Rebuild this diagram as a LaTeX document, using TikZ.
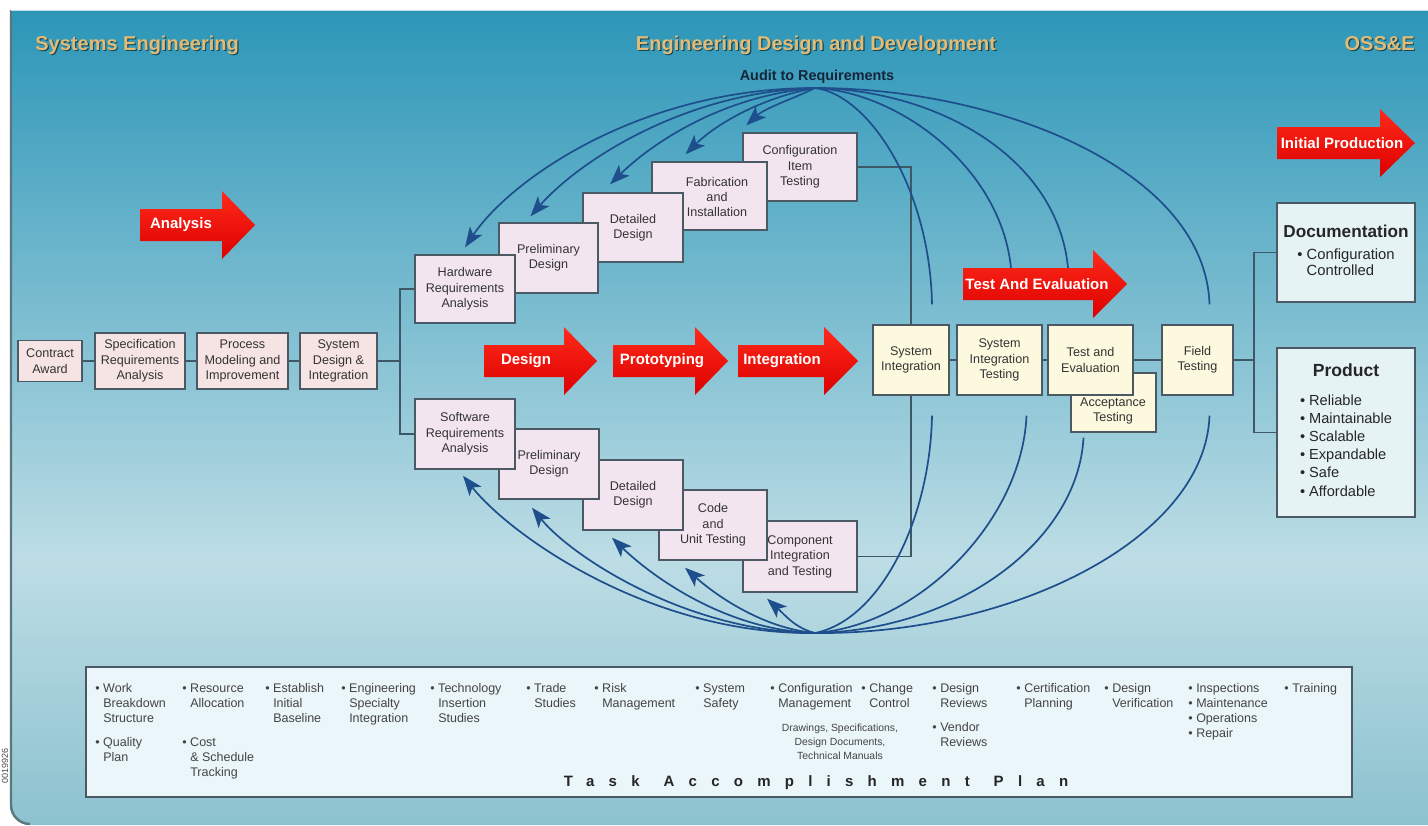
\documentclass[tikz,border=0pt]{standalone}
\usepackage{fontspec}
\setmainfont{Liberation Sans}
\usetikzlibrary{arrows.meta}
\pgfdeclarelayer{bg}
\pgfdeclarelayer{lines}
\pgfsetlayers{bg,lines,main}
\definecolor{bgtop}{HTML}{2C96B8}
\definecolor{bgmid}{HTML}{BDDDE5}
\definecolor{bgbot}{HTML}{8CC2CF}
\definecolor{edgegray}{HTML}{5A7680}
\definecolor{boxline}{HTML}{4A5963}
\definecolor{connline}{HTML}{3E5866}
\definecolor{pinkfill}{HTML}{F6E3E3}
\definecolor{lavfill}{HTML}{F3E5EF}
\definecolor{creamfill}{HTML}{FCF9DF}
\definecolor{cyanfill}{HTML}{E6F3F5}
\definecolor{taskfill}{HTML}{EAF6F9}
\definecolor{navy}{HTML}{1E4F8C}
\definecolor{gold}{HTML}{E2BC76}
\definecolor{redtop}{HTML}{FF2A1A}
\definecolor{redbot}{HTML}{DC0000}
\definecolor{boxtext}{HTML}{333333}
\definecolor{plantext}{HTML}{444444}
\definecolor{auditcol}{HTML}{15253A}
\newcommand\redarrow[4]{\shade[top color=redtop,bottom color=redbot] (#1,#3-16) -- (#2-#4,#3-16) -- (#2-#4,#3-34) -- (#2,#3) -- (#2-#4,#3+34) -- (#2-#4,#3+16) -- (#1,#3+16) -- cycle;}
\newcommand\plitem[1]{\begin{tabular}[t]{@{}l@{\ }l@{}}#1\end{tabular}}
\begin{document}
\begin{tikzpicture}[x=0.5pt,y=-0.5pt,
  sz/.style n args={2}{minimum width=#1*0.5pt,minimum height=#2*0.5pt},
  box/.style={draw=boxline,line width=0.7pt,align=center,inner sep=1pt,text=boxtext,font=\fontsize{6.3}{7.7}\selectfont},
  pinkbox/.style={box,fill=pinkfill},
  lavbox/.style={box,fill=lavfill},
  creambox/.style={box,fill=creamfill},
  cyanbox/.style={box,fill=cyanfill,text=black!85},
  boxlbl/.style={align=center,inner sep=0pt,text=boxtext,font=\fontsize{6.3}{7.7}\selectfont},
  conn/.style={draw=connline,line width=0.8pt},
  audit/.style={draw=navy,line width=0.85pt},
  auditarr/.style={audit,-{Stealth[length=10pt,width=7.5pt,inset=2.5pt]}},
  hdr/.style={font=\bfseries\fontsize{10}{12}\selectfont,text=gold,inner sep=0pt},
  hdrshadow/.style={font=\bfseries\fontsize{10}{12}\selectfont,text=black,opacity=0.55,inner sep=0pt},
  arrlbl/.style={font=\bfseries\fontsize{7.5}{8.5}\selectfont,text=white,inner sep=0pt},
  plan/.style={anchor=base west,inner sep=0pt,text=plantext,font=\fontsize{6.25}{7.5}\selectfont},
]
\useasboundingbox (0,0) rectangle (1428,825);
\begin{pgfonlayer}{bg}
\fill[white] (0,0) rectangle (1428,825);
\begin{scope}
\clip (10,10) -- (1428,10) -- (1428,825) -- (30,825) arc[start angle=90,end angle=180,radius=20] -- cycle;
\shade[top color=bgtop,bottom color=bgmid] (0,10) rectangle (1428,560);
\shade[top color=bgmid,bottom color=bgbot] (0,559) rectangle (1428,825);
\end{scope}
\draw[edgegray,line width=1.2pt] (11,10) -- (11,805) arc[start angle=180,end angle=90,radius=19];
\draw[white!70!bgtop,line width=0.6pt] (11,10.5) -- (1428,10.5);
\end{pgfonlayer}
\node[font=\fontsize{4.5}{5}\selectfont,rotate=90,text=black!70,inner sep=0pt] (code) at (5,766) {0019926};

% headers
\node[hdrshadow,anchor=base west] (h1s) at (36.2,51.2) {Systems Engineering};
\node[hdr,anchor=base west] (h1) at (35,50) {Systems Engineering};
\node[hdrshadow,anchor=base] (h2s) at (817.2,51.2) {Engineering Design and Development};
\node[hdr,anchor=base] (h2) at (816,50) {Engineering Design and Development};
\node[hdrshadow,anchor=base east] (h3s) at (1416.2,51.2) {OSS\&E};
\node[hdr,anchor=base east] (h3) at (1415,50) {OSS\&E};
\node[font=\bfseries\fontsize{7.2}{8}\selectfont,text=auditcol,anchor=base,inner sep=0pt] (audit) at (817,80) {Audit to Requirements};

\coordinate (j1) at (400,361);
\coordinate (j3) at (1254,360);
\coordinate (aT) at (815,88);
\coordinate (aB) at (815,633);

% left chain
\node[pinkbox,sz={64}{41}] (ca) at (50,361) {Contract\\Award};
\node[pinkbox,sz={90}{56}] (sra) at (140,361) {Specification\\Requirements\\Analysis};
\node[pinkbox,sz={91}{56}] (pmi) at (242.5,361) {Process\\Modeling and\\Improvement};
\node[pinkbox,sz={77}{56}] (sdi) at (338.5,361) {System\\Design \&\\Integration};

% hardware staircase (later boxes underneath)
\node[lavbox,sz={114}{68}] (hcit) at (800,167) {Configuration\\Item\\Testing};
\node[lavbox,sz={115}{68}] (hfi) at (709.5,196) {};
\node[boxlbl] (hfil) at (717,197) {Fabrication\\and\\Installation};
\node[lavbox,sz={100}{69}] (hdd) at (633,227.5) {Detailed\\Design};
\node[lavbox,sz={99}{70}] (hpd) at (548.5,258) {Preliminary\\Design};
\node[lavbox,sz={100}{68}] (hra) at (465,289) {Hardware\\Requirements\\Analysis};
% software staircase
\node[lavbox,sz={114}{71}] (scit) at (800,556.5) {Component\\Integration\\and Testing};
\node[lavbox,sz={108}{70}] (scut) at (713,525) {Code\\and\\Unit Testing};
\node[lavbox,sz={100}{70}] (sdd) at (633,495) {Detailed\\Design};
\node[lavbox,sz={100}{70}] (spd) at (549,464) {Preliminary\\Design};
\node[lavbox,sz={100}{70}] (swra) at (465,434) {Software\\Requirements\\Analysis};

% test chain
\node[creambox,sz={85}{59}] (acc) at (1113.5,402.5) {};
\node[boxlbl] (accl) at (1113,411) {Acceptance\\Testing};
\node[creambox,sz={76}{70}] (si) at (911,360) {System\\Integration};
\node[creambox,sz={85}{70}] (sit) at (999.5,360) {System\\Integration\\Testing};
\node[creambox,sz={85}{70}] (te) at (1090.5,360) {Test and\\Evaluation};
\node[creambox,sz={71}{70}] (ft) at (1197.5,360) {Field\\Testing};

% OSS&E outputs
\node[cyanbox,sz={138}{99},font=\fontsize{7.4}{8}\selectfont] (doc) at (1346,252.5) {{\bfseries\fontsize{8.6}{10}\selectfont Documentation}\\[4pt]\begin{tabular}{@{}l@{\ }l@{}}•&Configuration\\&Controlled\end{tabular}};
\node[cyanbox,sz={138}{169},font=\fontsize{7.3}{9.1}\selectfont] (prod) at (1346,432.5) {{\bfseries\fontsize{8.8}{10}\selectfont Product}\\[7pt]\begin{tabular}{@{}l@{\ }l@{}}•&Reliable\\•&Maintainable\\•&Scalable\\•&Expandable\\•&Safe\\•&Affordable\end{tabular}};

% connectors (behind boxes)
\begin{pgfonlayer}{lines}
\draw[conn] (ca) -- (sra);
\draw[conn] (sra) -- (pmi);
\draw[conn] (pmi) -- (sdi);
\draw[conn] (sdi.east) -- (j1);
\draw[conn] (hra.west) -| (j1);
\draw[conn] (swra.west) -| (j1);
\draw[conn] (hcit.east) -| (si.north);
\draw[conn] (scit.east) -| (si.south);
\draw[conn] (si) -- (sit);
\draw[conn] (sit) -- (te);
\draw[conn] (te) -- (ft);
\draw[conn] (ft.east) -- (j3);
\draw[conn] (doc.west) -| (j3);
\draw[conn] (prod.west) -| (j3);
\end{pgfonlayer}

% audit curves, top
\draw[auditarr] (aT) .. controls (640,88) and (510,180) .. ([yshift=3.5pt]hra.north);
\draw[auditarr] (aT) .. controls (680,92) and (575,165) .. ([xshift=-9pt,yshift=3pt]hpd.north);
\draw[auditarr] (aT) .. controls (720,96) and (650,145) .. ([xshift=-11.5pt,yshift=4pt]hdd.north);
\draw[auditarr] (aT) .. controls (760,98) and (715,125) .. ([xshift=-12pt,yshift=3.5pt]hfi.north);
\draw[auditarr] (aT) .. controls (795,98) and (765,108) .. ([xshift=2pt,yshift=3.5pt]hcit.north west);
\draw[audit] (aT) .. controls (870,95) and (930,190) .. ([xshift=10.5pt,yshift=10pt]si.north);
\draw[audit] (aT) .. controls (900,92) and (1005,170) .. ([xshift=6pt,yshift=25pt]sit.north);
\draw[audit] (aT) .. controls (940,90) and (1062,160) .. ([xshift=-11pt,yshift=25pt]te.north);
\draw[audit] (aT) .. controls (1000,88) and (1205,170) .. ([xshift=6pt,yshift=10pt]ft.north);
% audit curves, bottom
\draw[auditarr] (aB) .. controls (650,635) and (510,535) .. ([xshift=-1pt,yshift=-3pt]swra.south);
\draw[auditarr] (aB) .. controls (685,632) and (570,555) .. ([xshift=-8.5pt,yshift=-4pt]spd.south);
\draw[auditarr] (aB) .. controls (720,630) and (645,570) .. ([xshift=-10.5pt,yshift=-3.5pt]sdd.south);
\draw[auditarr] (aB) .. controls (760,628) and (712,592) .. ([xshift=-14pt,yshift=-3.5pt]scut.south);
\draw[auditarr] (aB) .. controls (795,628) and (785,615) .. ([xshift=-16.5pt,yshift=-3pt]scit.south);
\draw[audit] (aB) .. controls (880,620) and (930,520) .. ([xshift=10.5pt,yshift=-10pt]si.south);
\draw[audit] (aB) .. controls (920,625) and (1022,520) .. ([xshift=13.5pt,yshift=-10pt]sit.south);
\draw[audit] (aB) .. controls (960,630) and (1078,540) .. ([xshift=-15pt,yshift=-2.5pt]acc.south);
\draw[audit] (aB) .. controls (1010,635) and (1205,540) .. ([xshift=6pt,yshift=-10pt]ft.south);

% red block arrows
\redarrow{140}{255}{225}{33}
\redarrow{484}{597}{361}{33}
\redarrow{613}{728}{361}{33}
\redarrow{738}{858}{361}{34}
\redarrow{963}{1127}{284}{34}
\redarrow{1277}{1415}{143}{35}
\node[arrlbl] (lAnalysis) at (181,225) {Analysis};
\node[arrlbl] (lDesign) at (526,361) {Design};
\node[arrlbl] (lProto) at (662,361) {Prototyping};
\node[arrlbl] (lInteg) at (782,361) {Integration};
\node[arrlbl] (lTE) at (1037,284) {Test And Evaluation};
\node[arrlbl] (lIP) at (1342,143) {Initial Production};

% task accomplishment plan
\node[draw=boxline,line width=0.8pt,fill=taskfill,sz={1266}{130}] (tap) at (719,732) {};
\node[plan] (p1) at (95,692) {\plitem{•&Work\\&Breakdown\\&Structure}};
\node[plan] (p2) at (95,746) {\plitem{•&Quality\\&Plan}};
\node[plan] (p3) at (182,692) {\plitem{•&Resource\\&Allocation}};
\node[plan] (p4) at (182,746) {\plitem{•&Cost\\&\& Schedule\\&Tracking}};
\node[plan] (p5) at (265,692) {\plitem{•&Establish\\&Initial\\&Baseline}};
\node[plan] (p6) at (341,692) {\plitem{•&Engineering\\&Specialty\\&Integration}};
\node[plan] (p7) at (430,692) {\plitem{•&Technology\\&Insertion\\&Studies}};
\node[plan] (p8) at (526,692) {\plitem{•&Trade\\&Studies}};
\node[plan] (p9) at (594,692) {\plitem{•&Risk\\&Management}};
\node[plan] (p10) at (695,692) {\plitem{•&System\\&Safety}};
\node[plan] (p11) at (770,692) {\plitem{•&Configuration\\&Management}};
\node[plan] (p12) at (861,692) {\plitem{•&Change\\&Control}};
\node[anchor=base,inner sep=0pt,text=plantext,font=\fontsize{5.2}{7}\selectfont] (drw) at (840,731) {\begin{tabular}[t]{@{}c@{}}Drawings, Specifications,\\Design Documents,\\Technical Manuals\end{tabular}};
\node[plan] (p13) at (932,692) {\plitem{•&Design\\&Reviews}};
\node[plan] (p14) at (932,731) {\plitem{•&Vendor\\&Reviews}};
\node[plan] (p15) at (1016,692) {\plitem{•&Certification\\&Planning}};
\node[plan] (p16) at (1104,692) {\plitem{•&Design\\&Verification}};
\node[plan] (p17) at (1188,692) {\plitem{•&Inspections\\•&Maintenance\\•&Operations\\•&Repair}};
\node[plan] (p18) at (1284,692) {\plitem{•&Training}};
\node[anchor=base,inner sep=0pt,text=black!85,font=\bfseries\fontsize{7.5}{9}\selectfont] (taptitle) at (816,786) {\addfontfeature{LetterSpace=95}Task\hspace{12pt}Accomplishment\hspace{12pt}Plan};
\end{tikzpicture}
\end{document}
